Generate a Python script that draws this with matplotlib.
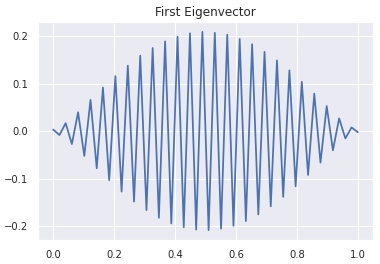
import numpy as np
import matplotlib
matplotlib.use("Agg")
import matplotlib.pyplot as plt
import seaborn as sns

# values, 50 evenly spaced points on [0, 1]
x = np.linspace(0, 1, 50)
vec = [0.0035, -0.008, 0.017, -0.027, 0.040, -0.052, 0.066, -0.078, 0.092, -0.103,
       0.116, -0.127, 0.138, -0.148, 0.159, -0.166, 0.175, -0.182, 0.189, -0.194,
       0.199, -0.202, 0.206, -0.207, 0.209, -0.208, 0.207, -0.205, 0.203, -0.199,
       0.194, -0.189, 0.183, -0.175, 0.167, -0.158, 0.149, -0.138, 0.128, -0.116,
       0.104, -0.092, 0.079, -0.066, 0.053, -0.040, 0.027, -0.015, 0.008, -0.002]

sns.set_theme(style="darkgrid")
plt.rcParams["xtick.labelsize"] = 10
plt.rcParams["ytick.labelsize"] = 10

fig = plt.figure(figsize=(380 / 72, 264 / 72), dpi=72)
ax = fig.add_axes([38 / 380, 24 / 264, 335 / 380, 218 / 264])
ax.plot(x, vec, color="#4C72B0", linewidth=1.75)
ax.set_title("First Eigenvector", fontsize=12)

fig.savefig("out.png", dpi=72)
